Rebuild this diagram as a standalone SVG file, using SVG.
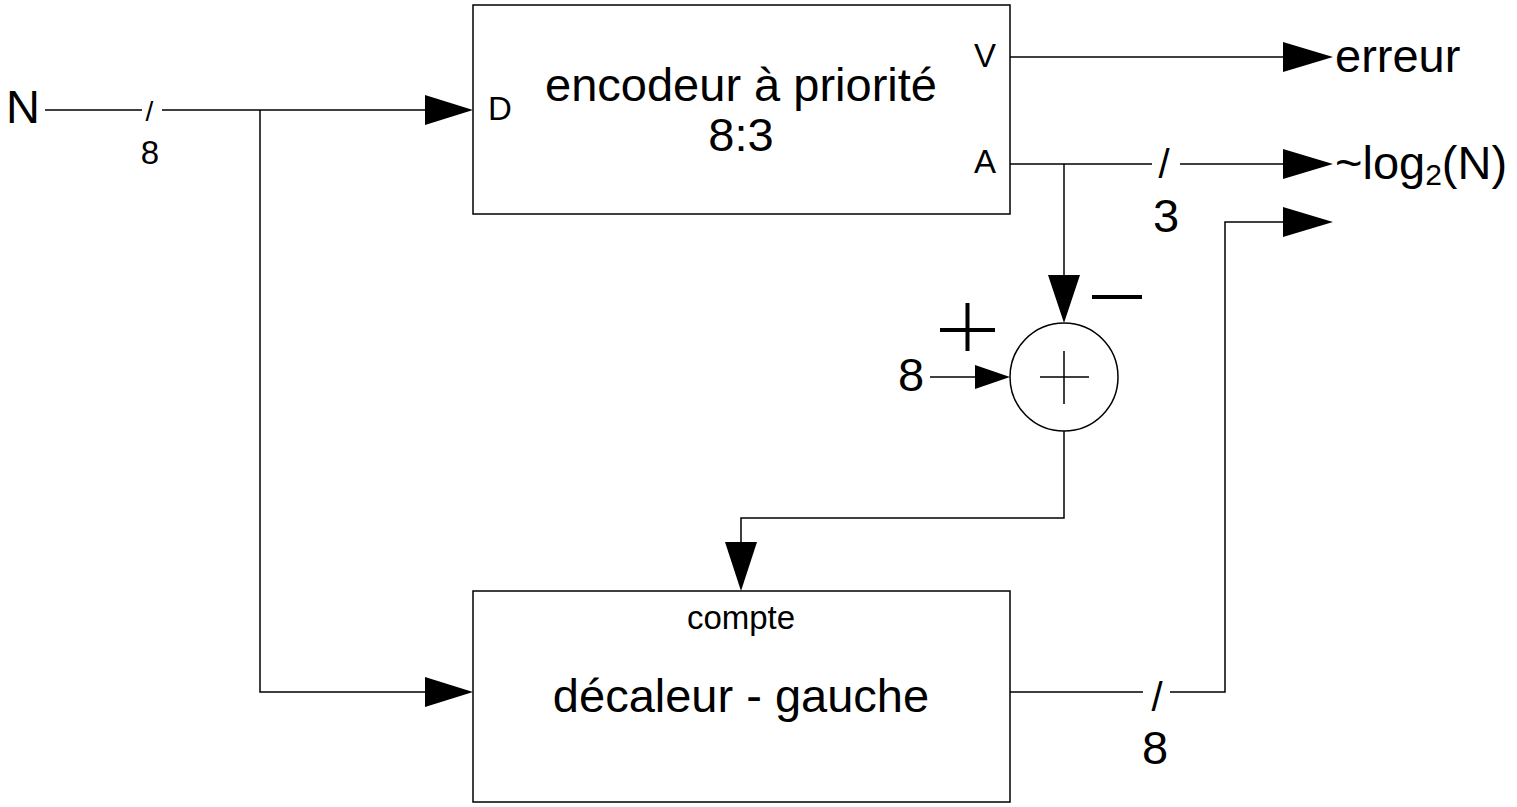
<svg xmlns="http://www.w3.org/2000/svg" width="1517" height="807" viewBox="0 0 1517 807">
<style>
.box{fill:#fff;stroke:#000;stroke-width:1.5}
.ln{fill:none;stroke:#000;stroke-width:1.5}
.ah{fill:#000;stroke:none}
text{font-family:"Liberation Sans",Arial,sans-serif;fill:#000}
.big{font-size:47px}
.mid{font-size:40px}
.sm{font-size:33px}
</style>
<rect width="1517" height="807" fill="#fff"/>
<g id="encodeur">
<rect class="box" x="473" y="5" width="537" height="209"/>
<text class="big" x="741" y="101" text-anchor="middle">encodeur à priorité</text>
<text class="big" x="741" y="151" text-anchor="middle">8:3</text>
<text class="sm" x="488" y="120">D</text>
<text class="sm" x="996" y="67" text-anchor="end">V</text>
<text class="sm" x="996" y="173" text-anchor="end">A</text>
</g>
<g id="decaleur">
<rect class="box" x="473" y="591" width="537" height="211"/>
<text class="sm" x="741" y="629" text-anchor="middle">compte</text>
<text class="big" x="741" y="712" text-anchor="middle">décaleur - gauche</text>
</g>
<g id="additionneur">
<circle class="ln" cx="1064" cy="377" r="54"/>
<path class="ln" d="M1040 377H1089M1064 351V404" stroke-width="1"/>
</g>
<g id="labels">
<text class="big" x="6" y="123">N</text>
<text x="149.5" y="121" font-size="28px" text-anchor="middle">/</text>
<text class="sm" x="150" y="164" text-anchor="middle">8</text>
<text class="big" x="1335" y="72">erreur</text>
<text class="big" x="1335" y="179">~log<tspan font-size="30px" dy="6">2</tspan><tspan dy="-6">(N)</tspan></text>
<text class="mid" x="1164" y="178" text-anchor="middle">/</text>
<text class="big" x="1166" y="232" text-anchor="middle">3</text>
<text class="mid" x="1157" y="711" text-anchor="middle">/</text>
<text class="big" x="1155" y="764" text-anchor="middle">8</text>
<text class="big" x="911" y="391" text-anchor="middle">8</text>
<path d="M940 330H995M967.5 303V351" stroke="#000" stroke-width="4" fill="none"/>
<path d="M1092 297H1142" stroke="#000" stroke-width="4" fill="none"/>
</g>
<g id="connectors">
<path class="ln" d="M45 110H142M162 110H428"/>
<path class="ah" d="M473 110L425 95V125Z"/>
<path class="ln" d="M260 110V692H428"/>
<path class="ah" d="M473 692L425 677V707Z"/>
<path class="ln" d="M1010 57H1288"/>
<path class="ah" d="M1333 57L1283 42V72Z"/>
<path class="ln" d="M1010 164H1152M1180 164H1288"/>
<path class="ah" d="M1333 164L1283 149V179Z"/>
<path class="ln" d="M1064 164V278"/>
<path class="ah" d="M1064 323L1048 275H1080Z"/>
<path class="ln" d="M930 377H980"/>
<path class="ah" d="M1010 377L975 365V389Z"/>
<path class="ln" d="M1064 431V518H741V545"/>
<path class="ah" d="M741 591L725 542H757Z"/>
<path class="ln" d="M1010 692H1143M1170 692H1225V222H1288"/>
<path class="ah" d="M1333 222L1283 207V237Z"/>
</g>
</svg>
